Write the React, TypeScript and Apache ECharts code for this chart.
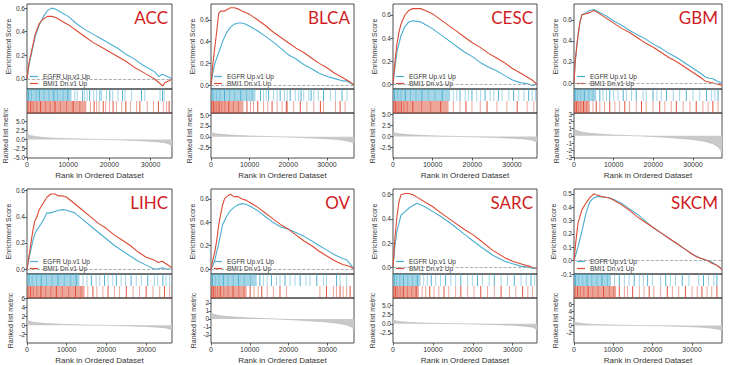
import React, { useEffect, useRef } from "react";
import * as echarts from "echarts";

const panelNames = ["ACC", "BLCA", "CESC", "GBM", "LIHC", "OV", "SARC", "SKCM"];
const legendNames = ["EGFR Up.v1 Up", "BMI1 Dn.v1 Up"];
// dataset size, in thousands of ranks
const rankMax = [35.2, 37.0, 36.3, 37.3, 36.5, 36.9, 36.1, 37.6];
const rankTicks = [0, 10000, 20000, 30000];

const esRange = [
  [-0.085, 0.635], [-0.035, 0.745], [-0.04, 0.695], [-0.057, 0.752],
  [-0.038, 0.613], [-0.042, 0.685], [-0.055, 0.647], [-0.1, 0.537],
];
const esTicks = [
  [0, 0.2, 0.4, 0.6], [0, 0.2, 0.4, 0.6], [0, 0.2, 0.4, 0.6], [0, 0.2, 0.4, 0.6],
  [0, 0.2, 0.4, 0.6], [0, 0.2, 0.4, 0.6], [0, 0.2, 0.4, 0.6],
  [-0.1, 0, 0.1, 0.2, 0.3, 0.4, 0.5],
];
const metricRange = [
  [-5.2, 7.4], [-4.9, 5.5], [-4.9, 5.4], [-3.1, 3.2],
  [-4.0, 6.1], [-3.0, 2.6], [-5.3, 7.1], [-4.9, 7.7],
];
const metricTicks = [
  [-5, -2.5, 0, 2.5, 5], [-2.5, 0, 2.5, 5], [-2.5, 0, 2.5, 5], [-3, -2, -1, 0, 1, 2, 3],
  [-2, 0, 2, 4, 6], [-2, -1, 0, 1, 2], [-2.5, 0, 2.5, 5], [-2, 0, 2, 4, 6],
];
const metricDecimals = [1, 1, 1, 0, 0, 0, 1, 0];

// Enrichment score curves: [rank (thousands), ES]
const esBlue = [
  [[0,0],[0.5,0.12],[1,0.2],[1.5,0.28],[2,0.36],[3,0.46],[4,0.53],[5,0.58],[6,0.6],[7,0.59],[8,0.57],[10,0.53],[12,0.47],[14,0.42],[16,0.38],[18,0.34],[20,0.3],[22,0.26],[24,0.21],[26,0.17],[28,0.12],[30,0.08],[31,0.06],[32,0.02],[32.8,0.04],[33.5,0.03],[34.5,0.015],[35.2,0]],
  [[0,0],[0.5,0.12],[1,0.2],[2,0.3],[3,0.4],[4,0.48],[5,0.53],[6,0.56],[7,0.57],[8,0.57],[9,0.56],[10,0.54],[12,0.5],[14,0.45],[16,0.4],[18,0.34],[20,0.28],[22,0.24],[24,0.19],[26,0.15],[28,0.11],[30,0.08],[32,0.06],[34,0.04],[35,0.04],[36,0.02],[37,0]],
  [[0,0],[0.5,0.15],[1,0.28],[1.5,0.35],[2,0.42],[3,0.5],[4,0.54],[5,0.55],[6,0.545],[7,0.54],[8,0.52],[10,0.48],[12,0.43],[14,0.38],[16,0.33],[18,0.28],[20,0.24],[22,0.19],[24,0.15],[26,0.12],[28,0.08],[30,0.04],[32,0.015],[34,0.005],[35,-0.01],[36.3,0]],
  [[0,0],[0.3,0.2],[0.7,0.35],[1,0.45],[1.5,0.58],[2,0.65],[3,0.67],[4,0.69],[5,0.7],[6,0.68],[8,0.64],[10,0.59],[12,0.55],[14,0.5],[16,0.46],[18,0.42],[20,0.37],[22,0.33],[24,0.28],[26,0.24],[28,0.19],[30,0.14],[32,0.09],[33,0.06],[34,0.045],[35,0.04],[36,0.02],[37.3,0]],
  [[0,0],[0.5,0.08],[1,0.15],[1.5,0.22],[2,0.27],[2.5,0.3],[3,0.32],[4,0.37],[5,0.43],[6,0.43],[7,0.44],[8,0.45],[9,0.455],[10,0.45],[12,0.43],[14,0.38],[16,0.33],[18,0.28],[20,0.23],[22,0.18],[24,0.14],[26,0.1],[28,0.06],[30,0.03],[32,0],[33,0],[34,0.01],[35,0],[36.5,0]],
  [[0,0],[0.5,0.03],[1,0.08],[1.5,0.15],[2,0.22],[2.5,0.3],[3,0.38],[4,0.45],[5,0.5],[6,0.53],[7,0.55],[8,0.56],[9,0.555],[10,0.54],[12,0.5],[14,0.45],[16,0.4],[18,0.36],[20,0.34],[22,0.31],[24,0.28],[26,0.24],[28,0.2],[30,0.16],[32,0.12],[34,0.09],[35,0.08],[36,0.04],[36.9,0]],
  [[0,0],[0.5,0.18],[1,0.3],[2,0.43],[3,0.46],[4,0.49],[5,0.51],[6,0.53],[8,0.5],[10,0.46],[12,0.42],[15,0.35],[18,0.27],[20,0.22],[22,0.17],[25,0.1],[28,0.05],[30,0.03],[32,0.01],[34,0],[35,-0.01],[36.1,-0.01]],
  [[0,0],[0.5,0.05],[1,0.1],[2,0.22],[3,0.35],[4,0.44],[5,0.47],[6,0.48],[7,0.48],[8,0.475],[9,0.47],[10,0.46],[12,0.43],[14,0.39],[16,0.35],[18,0.3],[20,0.25],[22,0.21],[24,0.17],[26,0.13],[28,0.09],[30,0.05],[32,0.02],[34,0],[35,-0.01],[36,-0.03],[37,-0.05],[37.6,-0.06]],
];
const esRed = [
  [[0,0],[0.5,0.14],[1,0.22],[1.5,0.3],[2,0.38],[3,0.47],[4,0.51],[5,0.53],[6,0.53],[7,0.52],[8,0.5],[10,0.46],[12,0.41],[14,0.36],[16,0.31],[18,0.27],[20,0.23],[22,0.19],[24,0.15],[26,0.1],[28,0.06],[30,0.02],[31,0],[32,-0.03],[33,-0.06],[33.5,-0.03],[34.5,-0.015],[35.2,0]],
  [[0,0],[0.5,0.2],[1,0.35],[1.5,0.5],[2,0.66],[2.5,0.68],[3.5,0.68],[4,0.69],[5,0.71],[6,0.71],[7,0.7],[8,0.68],[10,0.65],[12,0.6],[14,0.55],[16,0.49],[18,0.44],[20,0.39],[22,0.34],[24,0.3],[26,0.25],[28,0.2],[30,0.16],[32,0.11],[34,0.07],[36,0.03],[37,0]],
  [[0,0],[0.5,0.2],[1,0.35],[1.5,0.45],[2,0.52],[3,0.6],[4,0.64],[5,0.655],[6,0.655],[7,0.655],[8,0.64],[10,0.61],[12,0.56],[14,0.51],[16,0.46],[18,0.41],[20,0.36],[22,0.32],[24,0.27],[26,0.23],[28,0.19],[30,0.14],[32,0.1],[34,0.06],[35,0.04],[36.3,0]],
  [[0,0],[0.3,0.2],[0.7,0.35],[1,0.45],[1.5,0.58],[2,0.65],[3,0.66],[4,0.67],[5,0.69],[6,0.67],[8,0.62],[10,0.57],[12,0.52],[14,0.48],[16,0.43],[18,0.38],[20,0.34],[22,0.29],[24,0.24],[26,0.2],[28,0.15],[30,0.1],[32,0.05],[33,0.02],[34,0.01],[35,0],[36,-0.01],[37.3,-0.02]],
  [[0,0],[0.5,0.1],[1,0.2],[1.5,0.3],[2,0.37],[2.5,0.4],[3,0.45],[4,0.5],[5,0.55],[6,0.575],[7,0.575],[8,0.56],[9,0.56],[10,0.55],[12,0.5],[14,0.45],[16,0.4],[18,0.35],[20,0.31],[22,0.26],[24,0.22],[26,0.18],[28,0.13],[30,0.09],[32,0.07],[33,0.05],[34,0.06],[35,0.04],[36,0.02],[36.5,0.01]],
  [[0,0],[0.5,0.08],[1,0.15],[1.5,0.25],[2,0.38],[2.5,0.47],[3,0.55],[3.5,0.6],[4,0.62],[5,0.64],[6,0.62],[7,0.62],[8,0.6],[9,0.59],[10,0.57],[12,0.53],[14,0.48],[16,0.43],[18,0.38],[20,0.34],[22,0.29],[24,0.24],[26,0.2],[28,0.15],[30,0.11],[32,0.07],[34,0.04],[35,0.03],[36,0.02],[36.9,0]],
  [[0,0],[0.5,0.25],[1,0.42],[1.5,0.54],[2,0.6],[3,0.61],[4,0.61],[5,0.6],[6,0.58],[8,0.54],[10,0.5],[12,0.45],[15,0.38],[18,0.31],[20,0.27],[22,0.22],[25,0.14],[28,0.08],[30,0.05],[32,0.03],[34,0.01],[35,0],[36.1,-0.01]],
  [[0,0],[0.5,0.15],[1,0.28],[2,0.38],[3,0.43],[4,0.47],[5,0.5],[6,0.49],[7,0.48],[8,0.475],[9,0.47],[10,0.455],[12,0.42],[14,0.38],[16,0.33],[18,0.29],[20,0.25],[22,0.21],[24,0.17],[26,0.13],[28,0.09],[30,0.05],[31,0.03],[32,0.02],[33,0.01],[34,0],[35,-0.02],[36,-0.03],[37,-0.05],[37.6,-0.07]],
];

// Gene-set hit positions (thousands) and dense hit stretches [start, end]
const denseBlue = [[[0,10.8]],[[0,11.5]],[[0,14.4]],[[0,5.6]],[[0,13.2]],[[0,11.8]],[[0,6.9]],[[0,9.4]]];
const denseRed = [[[0,14.4]],[[0,8.4]],[[0,14]],[[0,4]],[[0,14.5]],[[0,9.2]],[[0,6.5]],[[0,10.7]]];
const hitsBlue = [
  [0.4,1.1,2.2,3.0,4.1,5.3,6.5,7.4,8.8,9.9,11.6,12.2,13.5,14,14.6,15.2,16.2,16.9,17.7,18.1,19.3,20.1,20.8,22.1,23.2,23.8,25.4,27.8,28.6,32.3,32.9,33.3],
  [0.5,1.4,2.3,3.5,4.8,6.1,7.7,9.2,10.6,12.8,13.6,14.3,14.9,16.2,17.1,17.9,19,19.7,20.5,21.8,22.7,23.3,24,25.3,25.9,26.6,27.8,29.1,30.9,32.2,33.9,35.2],
  [0.4,1.2,2.0,3.1,4.4,5.8,7.3,8.9,10.6,12.4,15.2,16.1,16.9,18.2,19,19.9,21.1,22.1,23.2,24.5,25.4,26.6,27.5,29.2,30.4,31.7,33,34.2,35.1,35.9],
  [0.3,0.9,1.7,2.6,3.7,4.8,6.5,7.3,8.2,9,10,11.1,12.4,13.2,14.5,15.7,17.4,18.2,19.9,20.9,22,23.3,25,26.6,28.3,30,31.7,33.4,34.6,35.5,36.3],
  [0.5,1.3,2.4,3.6,4.9,6.3,7.8,9.4,11.0,12.4,14.1,15.1,16.2,17.4,18.3,19.5,20.4,21.6,22.5,23.7,24.8,26.2,27.5,28.8,30.4,32.1,32.9,34.2,35,35.9],
  [0.4,1.2,2.1,3.2,4.4,5.7,7.1,8.6,10.2,12.6,13.5,14.5,15.6,16.9,17.8,19.1,20.4,21.7,23,24.5,25.5,27.3,29,29.8,32.4,33.3,35],
  [0.3,0.9,1.7,2.6,3.7,4.9,6.1,7.7,8.6,9.6,10.7,11.9,13.2,14.5,15.7,17,18.7,19.9,21.2,22.4,24.1,25.4,27.1,28.7,30.4,32.1,33.4,34.6,35.5],
  [0.4,1.2,2.2,3.3,4.5,5.8,7.1,8.5,10.3,11.5,12.8,14,15.3,16.6,17.6,18.7,19.9,22,23.3,24.5,25.8,27.5,29.2,31.7,32.9,34.2,35.5,36.3],
];
const hitsRed = [
  [0.3,0.9,1.5,2.4,3.3,4.5,5.6,6.8,8.1,9.6,11.2,12.8,15.4,16.3,16.9,17.5,18.5,19.1,20,20.9,21.7,23,24,25.1,26.6,27.4,29.2,30.7,31.9,33.1,33.9,34.5],
  [0.2,0.6,1.0,1.5,2.1,2.8,3.6,4.6,5.8,7.1,9.3,10.2,11,12.1,13.6,14.7,15.8,17.1,18.4,19.5,19.8,21.4,23.1,24.8,26.6,28.3,29.1,32.2,33.4,34.7],
  [0.2,0.6,1.0,1.5,2.1,2.8,3.6,5.0,7.2,9.5,12.0,15.2,16.9,18.4,19.9,22,23.7,26.2,28.7,31.3,33.8,35.5],
  [0.2,0.6,1.1,1.7,2.4,3.2,4.8,5.6,6.5,7.7,9,10.3,11.5,12.8,14,15.7,17,18.2,19.9,21.6,22.9,24.5,25.8,27.5,29.2,30.8,32.5,33.8,35,36.3],
  [0.3,0.9,1.6,2.5,3.5,4.7,6.0,7.4,8.9,10.5,12.2,13.6,15.3,16.6,17.6,19.1,20.4,22,23.3,25,26.7,28.3,30,31.7,33.4,34.6,35.9],
  [0.2,0.6,1.1,1.7,2.4,3.3,4.4,5.7,7.2,8.5,10.1,11.1,12.2,13.1,14.5,16.1,17.8,19.5,28.1,29.8,31.6,32.4,33.3,34.1,35,35.9],
  [0.2,0.6,1.1,1.8,2.6,3.6,4.7,5.8,7.3,8.2,9.2,10.3,11.5,12.8,14,15.7,17,18.7,20.3,22,23.7,25.4,27.1,29.2,30.8,32.5,33.8,35],
  [0.3,0.9,1.6,2.5,3.6,4.8,6.1,7.5,9.0,10.1,11.5,12.8,13.6,14.9,16.6,17.8,19.1,20.3,22,23.7,25,26.6,28.3,30,31.3,32.5,33.8,35,36.3],
];

// Ranked list metric: [rank (thousands), metric]
const metric = [
  [[0,2.0],[0.1,1.6],[0.5,1.25],[1,1.05],[2,0.8],[4,0.55],[7,0.35],[10,0.22],[14,0.1],[18,0],[22,-0.12],[26,-0.28],[29,-0.45],[32,-0.7],[33.5,-0.95],[34.5,-1.3],[35.2,-2.0]],
  [[0,1.4],[0.1,1.1],[0.5,0.9],[1,0.78],[2,0.62],[4,0.45],[7,0.3],[10,0.2],[14,0.08],[18,0],[22,-0.12],[26,-0.27],[30,-0.45],[33,-0.65],[35,-0.9],[36.3,-1.2],[37,-1.6]],
  [[0,1.3],[0.1,1.05],[0.5,0.85],[1,0.72],[2,0.58],[4,0.42],[7,0.28],[10,0.18],[14,0.07],[18,0],[22,-0.1],[26,-0.22],[30,-0.38],[33,-0.55],[35,-0.8],[35.8,-1.05],[36.3,-1.4]],
  [[0,1.3],[0.1,1.0],[0.5,0.8],[1,0.68],[2,0.52],[4,0.36],[7,0.22],[10,0.13],[14,0.04],[18,-0.05],[22,-0.17],[26,-0.32],[30,-0.52],[33,-0.78],[35,-1.1],[36.5,-1.6],[37.3,-2.4]],
  [[0,1.4],[0.1,1.1],[0.5,0.9],[1,0.78],[2,0.6],[4,0.42],[7,0.27],[10,0.17],[14,0.06],[18,0],[22,-0.08],[26,-0.18],[30,-0.3],[33,-0.45],[35,-0.62],[36,-0.85],[36.5,-1.1]],
  [[0,0.8],[0.1,0.7],[0.5,0.6],[1,0.52],[2,0.42],[4,0.3],[7,0.2],[10,0.12],[14,0.04],[18,-0.04],[22,-0.14],[26,-0.26],[30,-0.4],[33,-0.56],[35,-0.75],[36.3,-1.0],[36.9,-1.4]],
  [[0,1.3],[0.1,1.05],[0.5,0.85],[1,0.72],[2,0.55],[4,0.38],[7,0.24],[10,0.14],[14,0.05],[18,-0.02],[22,-0.12],[26,-0.25],[30,-0.42],[33,-0.65],[35,-0.95],[35.7,-1.3],[36.1,-1.9]],
  [[0,1.3],[0.1,1.05],[0.5,0.85],[1,0.72],[2,0.55],[4,0.38],[7,0.24],[10,0.14],[14,0.05],[18,-0.02],[22,-0.1],[26,-0.2],[30,-0.35],[33,-0.52],[35,-0.75],[36.8,-1.05],[37.6,-1.4]],
];

const BLUE = "#4aaed0";
const RED = "#dc4a33";
const FONT = "'Liberation Sans', Arial, sans-serif";
const TXT = "#333";

const colLeft = [27, 211, 393, 574];
const colWidth = [145, 143, 144, 148];
const rowTop = [4, 189];
const ES_H = 85;
const HIT_H = 24;
const metricH = [45, 46];
const esNameGap = [11, 14, 14, 14, 14, 14, 13, 17];
const metNameGap = [18, 18, 16, 14, 13, 14, 15, 15];

function buildOption() {
  const grid: any[] = [];
  const xAxis: any[] = [];
  const yAxis: any[] = [];
  const series: any[] = [];
  const legend: any[] = [];
  const graphic: any[] = [];
  const tickStyle = { show: true, length: 2.5, lineStyle: { color: TXT, width: 0.8 } };

  panelNames.forEach((name, p) => {
    const col = p % 4;
    const row = Math.floor(p / 4);
    const left = colLeft[col];
    const width = colWidth[col];
    const top = rowTop[row];
    const mh = metricH[row];
    const gi = grid.length;
    const gBase = { left, width, show: true, borderColor: "#222", borderWidth: 0.8, backgroundColor: "transparent" };
    grid.push({ ...gBase, top, height: ES_H });
    grid.push({ ...gBase, top: top + ES_H, height: HIT_H });
    grid.push({ ...gBase, top: top + ES_H + HIT_H, height: mh });
    const xmax = rankMax[p] * 1000;

    for (let k = 0; k < 2; k++) {
      xAxis.push({ type: "value", gridIndex: gi + k, min: 0, max: xmax, show: false });
    }
    xAxis.push({
      type: "value", gridIndex: gi + 2, min: 0, max: xmax,
      axisLine: { show: false, onZero: false }, splitLine: { show: false },
      axisTick: { ...tickStyle, customValues: rankTicks },
      axisLabel: { fontSize: 7, color: TXT, margin: 3, fontFamily: FONT, customValues: rankTicks, formatter: (v: number) => String(Math.round(v)) },
      name: "Rank in Ordered Dataset", nameLocation: "middle", nameGap: 13,
      nameTextStyle: { fontSize: 8, color: TXT, fontFamily: FONT },
    });

    yAxis.push({
      type: "value", gridIndex: gi, min: esRange[p][0], max: esRange[p][1],
      axisLine: { show: false, onZero: false }, splitLine: { show: false },
      axisTick: { ...tickStyle, customValues: esTicks[p] },
      axisLabel: { fontSize: 6.5, color: TXT, margin: 2, fontFamily: FONT, customValues: esTicks[p], formatter: (v: number) => v.toFixed(1) },
      name: "Enrichment Score", nameLocation: "middle", nameGap: esNameGap[p],
      nameTextStyle: { fontSize: 7, color: TXT, fontFamily: FONT },
    });
    yAxis.push({ type: "value", gridIndex: gi + 1, min: 0, max: 2, show: false });
    yAxis.push({
      type: "value", gridIndex: gi + 2, min: metricRange[p][0], max: metricRange[p][1],
      axisLine: { show: false, onZero: false }, splitLine: { show: false },
      axisTick: { ...tickStyle, customValues: metricTicks[p] },
      axisLabel: { fontSize: 6.5, color: TXT, margin: 2, fontFamily: FONT, customValues: metricTicks[p], formatter: (v: number) => v.toFixed(metricDecimals[p]) },
      name: "Ranked list metric", nameLocation: "middle", nameGap: metNameGap[p],
      nameTextStyle: { fontSize: 7, color: TXT, fontFamily: FONT },
    });

    series.push({
      type: "line", name: legendNames[0], xAxisIndex: gi, yAxisIndex: gi,
      data: esBlue[p].map(([k, v]) => [k * 1000, v]),
      symbol: "none", lineStyle: { color: BLUE, width: 1.1 }, itemStyle: { color: BLUE },
      markLine: {
        silent: true, symbol: ["none", "none"], label: { show: false },
        lineStyle: { type: "dashed", color: "#999", width: 0.8 },
        data: [{ yAxis: 0 }],
      },
    });
    series.push({
      type: "line", name: legendNames[1], xAxisIndex: gi, yAxisIndex: gi,
      data: esRed[p].map(([k, v]) => [k * 1000, v]),
      symbol: "none", lineStyle: { color: RED, width: 1.1 }, itemStyle: { color: RED },
    });

    const hitData: number[][] = [];
    denseBlue[p].forEach(([s, e]) => hitData.push([s * 1000, e * 1000, 1, 0]));
    denseRed[p].forEach(([s, e]) => hitData.push([s * 1000, e * 1000, 0, 0]));
    hitsBlue[p].forEach((x, i) => hitData.push([x * 1000, x * 1000, 1, i % 3 === 0 ? 2 : 1]));
    hitsRed[p].forEach((x, i) => hitData.push([x * 1000, x * 1000, 0, i % 3 === 1 ? 2 : 1]));
    series.push({
      type: "custom", xAxisIndex: gi + 1, yAxisIndex: gi + 1, silent: true,
      encode: { x: [0, 1], y: 2 },
      data: hitData,
      renderItem: (params: any, api: any) => {
        const s = api.value(0), e = api.value(1), r = api.value(2), kind = api.value(3);
        const a = api.coord([s, r + 1]);
        const b = api.coord([e, r]);
        const isLine = kind > 0;
        const x = isLine ? a[0] - 0.5 : a[0];
        const w = isLine ? 1 : b[0] - a[0];
        return {
          type: "rect",
          shape: { x, y: a[1], width: w, height: b[1] - a[1] },
          style: { fill: r === 1 ? BLUE : RED, opacity: kind === 0 ? 0.5 : kind === 2 ? 0.95 : 0.5 },
        };
      },
    });

    series.push({
      type: "line", xAxisIndex: gi + 2, yAxisIndex: gi + 2,
      data: metric[p].map(([k, v]) => [k * 1000, v]),
      symbol: "none", lineStyle: { color: "#b5b5b5", width: 0.6 },
      areaStyle: { color: "#c9c9c9", opacity: 1 },
    });

    legend.push({
      left: left + 3, top: top + ES_H - 16, orient: "vertical", itemGap: 0,
      itemWidth: 8, itemHeight: 1.2, icon: "rect", padding: 0, selectedMode: false,
      textStyle: { fontSize: 6.5, color: TXT, lineHeight: 6, fontFamily: FONT },
      data: legendNames,
    });

    graphic.push({
      type: "text", x: left + width - 4, y: top + 13, silent: true,
      style: { text: name, align: "right", verticalAlign: "middle", fontSize: 17, fill: "#d01c1f", fontFamily: "Lato, 'Open Sans', sans-serif" },
    });
  });

  return { animation: false, backgroundColor: "#fff", grid, xAxis, yAxis, series, legend, graphic };
}

export default function App() {
  const ref = useRef<HTMLDivElement>(null);
  useEffect(() => {
    if (!ref.current) return;
    const chart = echarts.init(ref.current, undefined, { renderer: "svg" });
    chart.setOption(buildOption() as any);
    return () => chart.dispose();
  }, []);
  return <div ref={ref} style={{ position: "absolute", left: 0, top: 0, width: 729, height: 365 }} />;
}
